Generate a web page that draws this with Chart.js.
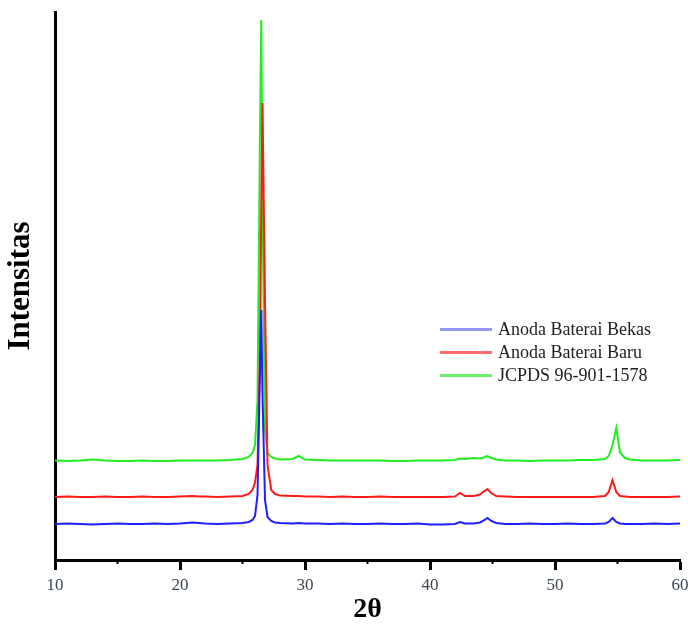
<!DOCTYPE html>
<html>
<head>
<meta charset="utf-8">
<script src="https://cdn.jsdelivr.net/npm/chart.js@4/dist/chart.umd.min.js"></script>
<style>
  html, body { margin: 0; padding: 0; background: #fff; }
  #wrap { position: relative; width: 688px; height: 624px; }
  #legend { position: absolute; left: 440px; top: 318px; font-family: "Liberation Serif", "Times New Roman", serif; font-size: 18px; color: #222; }
  .row { display: flex; align-items: center; height: 23px; }
  .swatch { width: 52px; height: 3px; margin-right: 6px; }
</style>
</head>
<body>
<div id="wrap">
  <canvas id="c" width="688" height="624"></canvas>
  <div id="legend"></div>
</div>
<script>
// 2θ positions (degrees)
const twoTheta = [10, 11, 12, 13, 14, 15, 16, 17, 18, 19, 20, 21, 21.5, 22, 23, 24, 25, 25.5, 25.8, 26.0,
  26.2, 26.4, 26.5, 26.6, 26.8, 27.0, 27.3, 27.6, 28, 29, 29.5, 30, 31, 32, 33, 34, 35, 36, 37, 38,
  39, 40, 41, 42, 42.4, 42.8, 43.5, 44, 44.3, 44.6, 44.9, 45.3, 46, 47, 48, 49, 50, 51, 52, 53,
  54, 54.3, 54.6, 54.9, 55.2, 55.6, 56, 57, 58, 59, 60];

// Intensities (arbitrary units, curves offset as in the figure)
const anodaBekas = [72, 73, 72, 71, 72, 73, 72, 72, 73, 72, 73, 75, 74, 73, 72, 73, 74, 76, 80, 88,
  130, 380, 500, 330, 120, 86, 78, 75, 74, 73, 74, 73, 73, 72, 73, 72, 72, 73, 72, 72,
  73, 71, 71, 72, 76, 73, 73, 75, 79, 84, 78, 74, 72, 72, 73, 72, 72, 73, 72, 72,
  73, 76, 84, 76, 73, 72, 72, 72, 73, 72, 73];

const anodaBaru = [126, 127, 126, 126, 127, 126, 126, 127, 126, 126, 127, 128, 127, 127, 126, 127, 128, 132, 140, 155,
  190, 420, 700, 914, 520, 190, 140, 132, 129, 128, 128, 127, 127, 126, 127, 126, 126, 127, 126, 126,
  126, 126, 126, 127, 134, 128, 128, 131, 137, 142, 134, 128, 127, 126, 126, 126, 126, 126, 126, 126,
  128, 136, 160, 136, 128, 127, 126, 126, 126, 126, 127];

const jcpds = [199, 198, 199, 201, 199, 198, 198, 199, 198, 198, 199, 199, 199, 199, 199, 200, 202, 206, 214, 230,
  320, 860, 1080, 720, 260, 214, 206, 203, 201, 202, 208, 201, 200, 199, 199, 199, 199, 199, 198, 198,
  199, 199, 199, 200, 203, 202, 204, 203, 205, 208, 204, 201, 199, 199, 198, 199, 199, 199, 200, 200,
  202, 208, 230, 264, 215, 204, 201, 199, 199, 199, 200];

const seriesLabels = ['Anoda Baterai Bekas', 'Anoda Baterai Baru', 'JCPDS 96-901-1578'];
const seriesColors = ['#1f1fff', '#ff1a1a', '#1fee1f'];
const legendColors = ['rgba(60,60,255,0.55)', 'rgba(255,30,30,0.65)', 'rgba(30,230,30,0.65)'];
const majorTicks = [10, 20, 30, 40, 50, 60];
const minorTicks = [15, 25, 35, 45, 55];

const seriesValues = [anodaBekas, anodaBaru, jcpds];
const datasets = seriesValues.map((vals, i) => ({
  label: seriesLabels[i],
  data: twoTheta.map((x, j) => ({ x: x, y: vals[j] })),
  borderColor: seriesColors[i],
  borderWidth: 2,
  pointRadius: 0,
  tension: 0,
  fill: false
}));

const serif = '"Liberation Serif", "Times New Roman", serif';

const minorTickPlugin = {
  id: 'minorTicks',
  afterDraw(chart) {
    const xs = chart.scales.x;
    const ctx = chart.ctx;
    ctx.save();
    ctx.strokeStyle = '#000';
    ctx.lineWidth = 2;
    minorTicks.forEach(v => {
      const px = xs.getPixelForValue(v);
      ctx.beginPath();
      ctx.moveTo(px, xs.top);
      ctx.lineTo(px, xs.top + 4);
      ctx.stroke();
    });
    ctx.restore();
  }
};

new Chart(document.getElementById('c'), {
  type: 'line',
  data: { datasets },
  options: {
    responsive: false,
    animation: false,
    layout: { padding: { top: 12, right: 0, left: 0, bottom: 0 } },
    plugins: { legend: { display: false }, tooltip: { enabled: false } },
    scales: {
      x: {
        type: 'linear',
        min: 10, max: 60,
        afterBuildTicks: s => { s.ticks = majorTicks.map(v => ({ value: v })); },
        afterFit: s => { s.height = 64; s.paddingRight = 8; s.paddingLeft = 0; },
        ticks: { font: { family: serif, size: 17 }, color: '#3b4656', padding: 5, maxRotation: 0 },
        grid: { drawOnChartArea: false, drawTicks: true, tickLength: 10, tickWidth: 3, tickColor: '#000' },
        border: { display: true, color: '#000', width: 3 },
        title: { display: true, text: '2θ', font: { family: serif, size: 28, weight: 'bold', lineHeight: 1 }, color: '#000', padding: { top: 0, bottom: 0 } }
      },
      y: {
        type: 'linear',
        min: 0, max: 1096,
        afterFit: s => { s.width = 55; },
        ticks: { display: false },
        grid: { drawOnChartArea: false, drawTicks: false },
        border: { display: true, color: '#000', width: 3 },
        title: { display: true, text: 'Intensitas', font: { family: serif, size: 31, weight: 'bold', lineHeight: 1.2 }, color: '#000', padding: { top: 2, bottom: 0 } }
      }
    }
  },
  plugins: [minorTickPlugin]
});

const legendEl = document.getElementById('legend');
seriesLabels.forEach((lab, i) => {
  const row = document.createElement('div');
  row.className = 'row';
  const sw = document.createElement('div');
  sw.className = 'swatch';
  sw.style.background = legendColors[i];
  const tx = document.createElement('span');
  tx.textContent = lab;
  row.appendChild(sw);
  row.appendChild(tx);
  legendEl.appendChild(row);
});
</script>
</body>
</html>
